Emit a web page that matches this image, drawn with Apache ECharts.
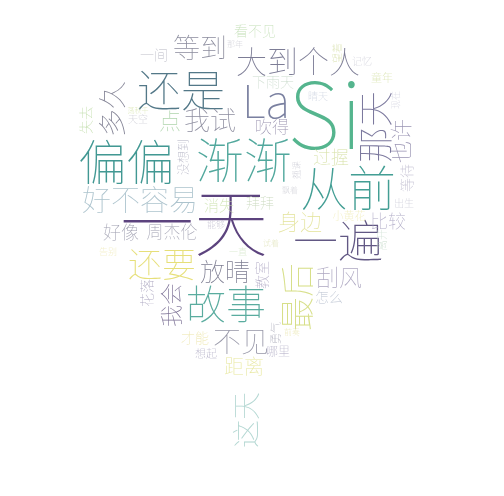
<!DOCTYPE html>
<html>
<head>
<meta charset="utf-8">
<script src="https://cdn.jsdelivr.net/npm/echarts@6/dist/echarts.min.js"></script>
<style>html,body{margin:0;padding:0;background:#fff;}#c{width:504px;height:496px;}</style>
</head>
<body>
<div id="c"></div>
<script>
const words = ["Si","一天","偏偏","渐渐","从前","还是","故事","一遍","那天","大到个人","La","还要","最后","等到","我试","多久","好不容易","这天","放晴","不见","我会","身边","距离","刮风","也许","比较","点","吹得","好像","周杰伦","消失","拜拜","过握","看不见","下雨天","失去","一间","怎么","才能","花落","教室","等待","没想到","小黄花","童年","离开","出生","想起","勇气","哪里","天空","记忆","晴天","望着","那年","现在","荡秋千","能够","一直","试着","告别","翘课","飘着","前奏"];
const xs = [325,194,126,244,348,181,226,338,375,298,266,162,297,200,210,112,140,246,225,241,171,300,244,339,401,388,170,272,121,172,219,260,331,255,273,86,154,329,195,147,262,407,183,349,382,382,404,206,276,278,138,362,318,337,235,396,138,216,238,271,108,297,290,292];
const ys = [114,222,162,160,188,90,304,241,127,61,101,264,297,48,120,109,200,420,271,341,305,222,366,277,141,221,121,127,232,232,205,203,157,31,82,120,55,297,338,293,275,178,157,216,78,240,203,354,333,351,119,61,96,53,44,100,110,225,252,243,252,170,190,332];
const sizes = [92,74,48,48,48,44,40,45,36,31,46,34,34,27,26,28,29,28,25,28,22,22,20,23,22,18,22,17,18,17,15,14,18,14,14,14,14,14,14,14,14,14,12,11,11,11,10,11,11,12,10,10,10,10,8,9,7,9,9,8,9,9,8,8];
const rotations = [0,0,0,0,0,0,0,0,90,0,0,0,90,0,0,90,0,90,0,0,90,0,0,0,90,0,0,0,0,0,0,0,0,0,0,90,0,0,0,90,90,90,90,0,0,90,0,0,90,0,0,0,0,90,0,90,0,0,0,0,0,90,0,0];
const colors = ["#43ad82","#4a2f70","#2e8d87","#3f9e92","#2f9488","#40697b","#48a395","#514677","#6e6a94","#6f6f8b","#6b7296","#e3dc6a","#d3dc7c","#7e8092","#7f7f93","#77778b","#a3bdc8","#a8d2cc","#6f6f85","#8b8b9d","#6b5f88","#e0e08f","#e6e597","#a49dba","#8e88ab","#aaa4c2","#a6d0a4","#8f87a7","#9595a7","#9595a7","#c8e0a8","#c5d6b8","#cfdc98","#bcdcae","#c4d7c7","#b8d89e","#b0b0be","#b4bccc","#ebe3a4","#a39cb9","#a49cbb","#b4b0c6","#a9a9bb","#ece8a8","#cedc98","#c2d8c8","#b8b8c8","#a09ab8","#a8a8b8","#a49ebb","#b8b8c4","#c8c8d4","#c0c8d8","#d2dca0","#bcbcc8","#c8c8d8","#d0e0a0","#b8b4c8","#c8e0b8","#d8dca8","#ece6a8","#c0c0cc","#c8c8d0","#e8e4a8"];

const chart = echarts.init(document.getElementById('c'));
chart.setOption({
  backgroundColor: '#ffffff',
  animation: false,
  grid: {left: 0, right: 0, top: 0, bottom: 0},
  xAxis: {type: 'value', min: 0, max: 504, show: false},
  yAxis: {type: 'value', min: 0, max: 496, inverse: true, show: false},
  series: [{
    type: 'custom',
    silent: true,
    data: words.map((w, i) => [xs[i], ys[i], i]),
    renderItem: function (params, api) {
      const i = params.dataIndex;
      const pt = api.coord([api.value(0), api.value(1)]);
      return {
        type: 'text',
        x: pt[0], y: pt[1],
        rotation: rotations[i] * Math.PI / 180,
        style: {
          text: words[i],
          fontSize: sizes[i],
          fontFamily: '"Noto Sans CJK SC Thin", "Noto Sans CJK SC", "Noto Sans", sans-serif',
          fontWeight: 100,
          fill: colors[i],
          opacity: 0.9,
          align: 'center',
          verticalAlign: 'middle'
        }
      };
    }
  }]
});
</script>
</body>
</html>
